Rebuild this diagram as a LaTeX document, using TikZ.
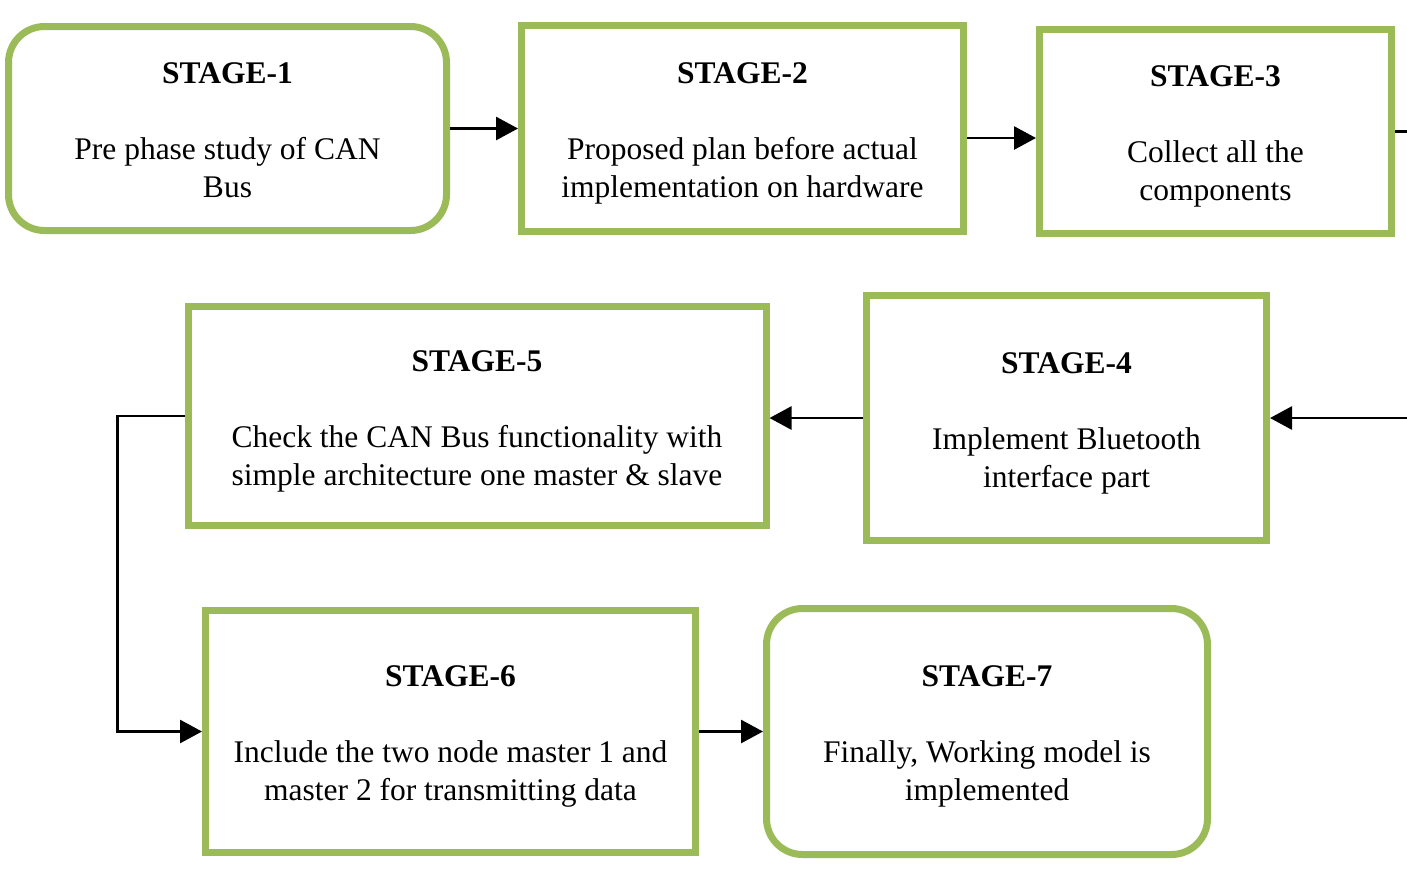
\documentclass[tikz,border=0pt]{standalone}
\usepackage{fontspec}
\setmainfont{Liberation Serif}
\usepackage{xcolor}
\usetikzlibrary{arrows.meta,calc}
\definecolor{stagegreen}{HTML}{9BBB59}
\newcommand{\stagetext}[3]{\rule{0pt}{16pt}\textbf{STAGE-#1}\\[19pt] #2\\ #3\rule[-4pt]{0pt}{4pt}}

\begin{document}
\begin{tikzpicture}[x=0.5pt, y=-0.5pt, >={Triangle[length=11pt,width=11.5pt]}, line width=1.4pt,
  stage/.style={draw=stagegreen, line width=3.5pt, align=center, inner sep=0pt, font=\fontsize{15.75}{19}\selectfont},
  roundstage/.style={stage, rounded corners=18pt}]
\useasboundingbox (0,0) rectangle (1407,875);

\node[roundstage, minimum width=219pt, minimum height=102pt] (s1) at (227.5,128.5) {\stagetext{1}{Pre phase study of CAN}{Bus}};
\node[stage, minimum width=221pt, minimum height=103pt] (s2) at (742.5,128.5) {\stagetext{2}{Proposed plan before actual}{implementation on hardware}};
\node[stage, minimum width=176pt, minimum height=102pt] (s3) at (1215.5,131.5) {\stagetext{3}{Collect all the}{components}};
\node[stage, minimum width=200pt, minimum height=122.5pt] (s4) at (1066.5,418) {\stagetext{4}{Implement Bluetooth}{interface part}};
\node[stage, minimum width=289pt, minimum height=109.5pt] (s5) at (477,416) {\stagetext{5}{Check the CAN Bus functionality with}{simple architecture one master \& slave}};
\node[stage, minimum width=245pt, minimum height=121pt] (s6) at (450.5,731.5) {\stagetext{6}{Include the two node master 1 and}{master 2 for transmitting data}};
\node[roundstage, minimum width=220.5pt, minimum height=123pt] (s7) at (987,731.5) {\stagetext{7}{Finally, Working model is}{implemented}};

\coordinate (edge) at (1440,300);
\coordinate (back) at (117.5,600);

\draw[->] (s1) -- (s2);
\draw[->] ([yshift=-4.75pt]s2.east) -- ([yshift=-4.75pt]s2.east -| s3.west);
\draw[->] (s3.east) -| (edge) |- (s4.east);
\draw[->] (s4.west) -- (s4.west -| s5.east);
\draw[->] (s5.west) -| (back) |- (s6.west);
\draw[->] (s6) -- (s7);
\end{tikzpicture}
\end{document}
